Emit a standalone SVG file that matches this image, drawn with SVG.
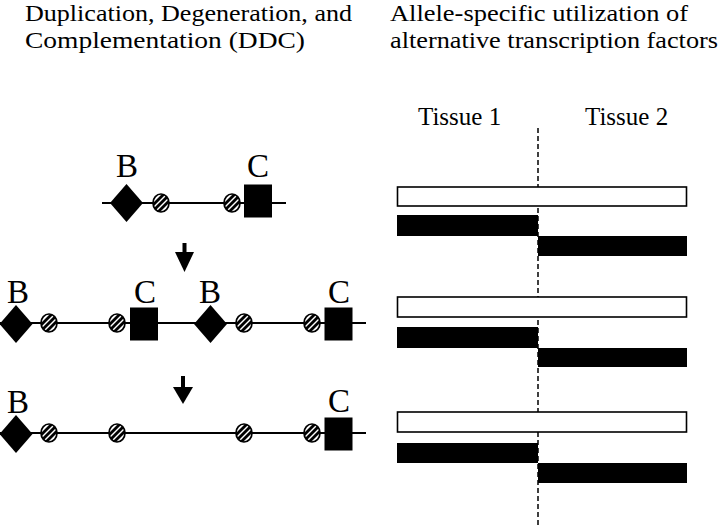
<svg xmlns="http://www.w3.org/2000/svg" xmlns:xlink="http://www.w3.org/1999/xlink" width="720" height="527" viewBox="0 0 720 527">
<style>
text{font-family:"Liberation Serif","Times New Roman",serif;fill:#000}
.title{font-size:24px}
.lbl{font-size:33px;text-anchor:middle}
.tis{font-size:25px}
.dna{stroke:#000;stroke-width:1.8;fill:none}
.open{fill:#fff;stroke:#000;stroke-width:1.6}
.blk{fill:#000}
</style>
<defs>
<clipPath id="cc"><ellipse cx="0" cy="0" rx="8" ry="9"/></clipPath>
<g id="hc">
<ellipse cx="0" cy="0" rx="8" ry="9" fill="#fff"/>
<g clip-path="url(#cc)" stroke="#000" stroke-width="2.8">
<line x1="-18" y1="12" x2="6" y2="-12"/>
<line x1="-12" y1="12" x2="12" y2="-12"/>
<line x1="-6" y1="12" x2="18" y2="-12"/>
</g>
<ellipse cx="0" cy="0" rx="8" ry="9" fill="none" stroke="#000" stroke-width="1.7"/>
</g>
<polygon id="dia" points="0,-19 16.5,0 0,19 -16.5,0" fill="#000"/>
<rect id="sq" x="-14" y="-16.5" width="28" height="33" fill="#000"/>
</defs>

<g id="titles">
<text class="title" x="25" y="21" textLength="327" lengthAdjust="spacingAndGlyphs">Duplication, Degeneration, and</text>
<text class="title" x="25" y="48" textLength="280" lengthAdjust="spacingAndGlyphs">Complementation (DDC)</text>
<text class="title" x="390" y="21" textLength="298" lengthAdjust="spacingAndGlyphs">Allele-specific utilization of</text>
<text class="title" x="390" y="48" textLength="328" lengthAdjust="spacingAndGlyphs">alternative transcription factors</text>
</g>

<g id="gene-original">
<line class="dna" x1="102" y1="203" x2="286" y2="203"/>
<use xlink:href="#dia" x="126.5" y="203"/>
<use xlink:href="#hc" x="161" y="203"/>
<use xlink:href="#hc" x="232" y="203"/>
<use xlink:href="#sq" x="258" y="201"/>
<text class="lbl" x="127" y="177">B</text>
<text class="lbl" x="258" y="177">C</text>
</g>

<g id="gene-duplicated">
<line class="dna" x1="0" y1="323" x2="366" y2="323"/>
<use xlink:href="#dia" x="16" y="324"/>
<use xlink:href="#hc" x="49" y="323"/>
<use xlink:href="#hc" x="117" y="323"/>
<use xlink:href="#sq" x="144" y="324"/>
<use xlink:href="#dia" x="210.5" y="324"/>
<use xlink:href="#hc" x="244" y="323"/>
<use xlink:href="#hc" x="312" y="323"/>
<use xlink:href="#sq" x="338.5" y="324"/>
<text class="lbl" x="18" y="303">B</text>
<text class="lbl" x="145" y="303">C</text>
<text class="lbl" x="210" y="303">B</text>
<text class="lbl" x="339" y="303">C</text>
</g>

<g id="gene-complemented">
<line class="dna" x1="0" y1="433" x2="366" y2="433"/>
<use xlink:href="#dia" x="16" y="434"/>
<use xlink:href="#hc" x="49" y="433"/>
<use xlink:href="#hc" x="117" y="433"/>
<use xlink:href="#hc" x="244" y="433"/>
<use xlink:href="#hc" x="312" y="433"/>
<use xlink:href="#sq" x="338.5" y="434"/>
<text class="lbl" x="18" y="413">B</text>
<text class="lbl" x="339" y="412">C</text>
</g>

<g id="connectors">
<rect x="182.5" y="243" width="4" height="11" fill="#000"/>
<polygon points="175,252 194,252 184.5,272" fill="#000"/>
<rect x="181" y="376" width="4" height="12" fill="#000"/>
<polygon points="173,387 193,387 183,404" fill="#000"/>
</g>

<g id="tissues">
<text class="tis" x="418" y="125">Tissue 1</text>
<text class="tis" x="585" y="125">Tissue 2</text>
<line x1="538" y1="128" x2="538" y2="527" stroke="#000" stroke-width="1.5" stroke-dasharray="5,3"/>
</g>

<g id="allele-row-1">
<rect class="open" x="397.5" y="187" width="289" height="19"/>
<rect class="blk" x="397" y="215" width="141" height="21"/>
<rect class="blk" x="538" y="236" width="149" height="20"/>
</g>
<g id="allele-row-2">
<rect class="open" x="397.5" y="297" width="289" height="20"/>
<rect class="blk" x="397" y="327" width="141" height="21"/>
<rect class="blk" x="538" y="348" width="149" height="19"/>
</g>
<g id="allele-row-3">
<rect class="open" x="397.5" y="412" width="289" height="20"/>
<rect class="blk" x="397" y="443" width="141" height="20"/>
<rect class="blk" x="538" y="463" width="149" height="20"/>
</g>
</svg>
